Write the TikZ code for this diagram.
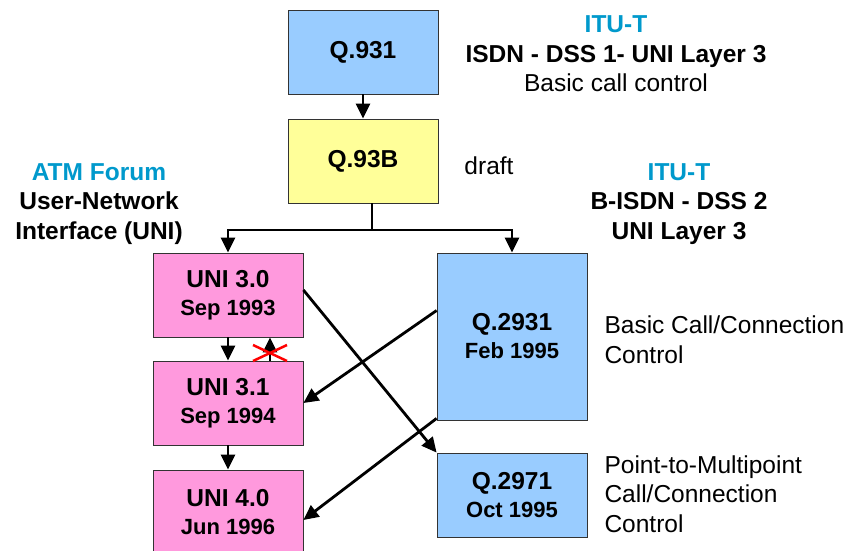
\documentclass[tikz,border=0pt]{standalone}
\usepackage{fontspec}
\setmainfont{Liberation Sans}
\usetikzlibrary{arrows.meta}
\definecolor{bleuitu}{HTML}{99CCFF}
\definecolor{jaune}{HTML}{FFFF99}
\definecolor{rose}{HTML}{FF99DD}
\definecolor{cyanitu}{HTML}{0099CC}
\begin{document}
\begin{tikzpicture}[x=1pt, y=-1pt, >={Triangle[length=15pt,width=14pt]}]

\useasboundingbox (0,0) rectangle (855,551);
\tikzset{
  boite/.style={draw=black!80, rectangle, line width=0.8pt, minimum width=150pt,
    minimum height=84pt, align=center, font=\bfseries\fontsize{24.5}{28}\selectfont},
  fleche/.style={->, line width=2.8pt},
  texte/.style={align=center, font=\fontsize{24.5}{29.5}\selectfont}
}
\def \sous #1{{\fontsize{22}{28}\selectfont #1}}
% boites
  \node[boite, fill=bleuitu] (q931) at (363,52) {Q.931};
  \node[boite, fill=jaune] (q93b) at (363,161) {Q.93B};
  \node[boite, fill=rose] (uni30) at (228,295) {UNI 3.0\\\sous{Sep 1993}};
  \node[boite, fill=rose] (uni31) at (228,403) {UNI 3.1\\\sous{Sep 1994}};
  \node[boite, fill=rose] (uni40) at (228,512) {UNI 4.0\\\sous{Jun 1996}};
  \node[boite, fill=bleuitu, minimum height=167pt] (q2931) at (512,336.5) {Q.2931\\\sous{Feb 1995}};
  \node[boite, fill=bleuitu] (q2971) at (512,495) {Q.2971\\\sous{Oct 1995}};
%
% textes
  \node[texte] (itut1) at (616,54) {\bfseries\textcolor{cyanitu}{ITU-T}\\\bfseries ISDN - DSS 1- UNI Layer 3\\Basic call control};
  \node[texte] (brouillon) at (489,166) {draft};
  \node[texte, font=\bfseries\fontsize{24.5}{29.5}\selectfont] (atmf) at (99,204) {\textcolor{cyanitu}{ATM Forum}\\User-Network\\Interface (UNI)};
  \node[texte, font=\bfseries\fontsize{24.5}{29.5}\selectfont] (itut2) at (679,204) {\textcolor{cyanitu}{ITU-T}\\B-ISDN - DSS 2\\UNI Layer 3};
  \node[texte, align=left, anchor=west] (appel) at (601,339.5) {Basic Call/Connection\\Control};
  \node[texte, align=left, anchor=west] (multi) at (601,494) {Point-to-Multipoint\\Call/Connection\\Control};
%
% fleches
  \coordinate (fourche) at (372,230);
  \draw[fleche] (q931) -- (q93b);
  \draw[line width=2.8pt] (q93b.south -| fourche) -- (fourche);
  \draw[fleche] (fourche) -| (uni30.north);
  \draw[fleche] (fourche) -| (q2931.north);
  \draw[fleche] (uni30) -- (uni31);
  \draw[fleche] (uni31) -- (uni40);
  \draw[fleche] ([xshift=42pt]uni31.north) -- ([xshift=42pt]uni30.south);
  \draw[fleche] ([yshift=5pt]uni30.east) -- (q2971.north west);
  \draw[fleche] ([yshift=26pt]q2931.west) -- (uni31.east);
  \draw[fleche] ([yshift=2pt]q2931.south west) -- ([yshift=-8pt]uni40.east);
%
% croix rouge
  \coordinate (croix) at (270,353);
  \draw[red, line width=2.5pt] ([shift={(-17,-8)}]croix) -- ([shift={(17,8)}]croix)
    ([shift={(-17,8)}]croix) -- ([shift={(17,-8)}]croix);
\end{tikzpicture}
\end{document}
